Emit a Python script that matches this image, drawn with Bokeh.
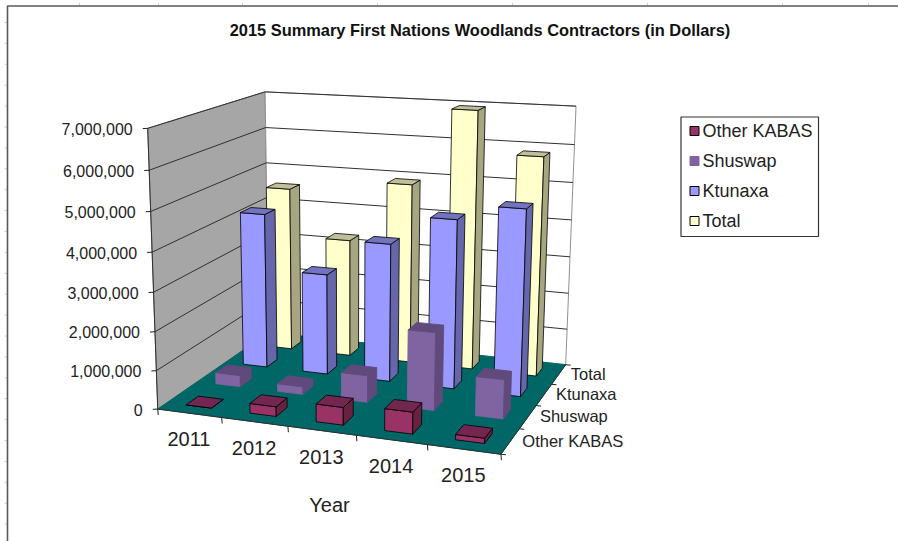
import numpy as np
from bokeh.plotting import figure
from bokeh.embed import file_html
from bokeh.resources import INLINE
from bokeh.core.properties import value

years = ["2011", "2012", "2013", "2014", "2015"]
series = ["Other KABAS", "Shuswap", "Ktunaxa", "Total"]
other_kabas = [0, 250000, 450000, 550000, 130000]
shuswap = [300000, 200000, 700000, 2000000, 1000000]
ktunaxa = [4200000, 2720000, 3680000, 4450000, 4850000]
total = [4550000, 3250000, 4900000, 6950000, 5850000]
y_ticks = [0, 1000000, 2000000, 3000000, 4000000, 5000000, 6000000, 7000000]
values = [other_kabas, shuswap, ktunaxa, total]
ymax = y_ticks[-1]

W, H = 898, 541
FONT = "Liberation Sans"

# colours: front, side, top, edge
colors = {
    "Other KABAS": ("#993366", "#66223f", "#732650", "#000000"),
    "Shuswap": ("#8064a2", "#604a7b", "#604a7b", None),
    "Ktunaxa": ("#9999ff", "#6666aa", "#7373bf", "#000000"),
    "Total": ("#ffffcc", "#a6a680", "#bfbf99", "#000000"),
}

# projective camera fitted to the plot box landmarks seen in the picture
calib = [
    ((0, 0, 0), (158, 408)), ((1, 0, 0), (222, 416.8)), ((2, 0, 0), (287, 425.7)),
    ((3, 0, 0), (356, 435)), ((4, 0, 0), (426, 444.7)), ((5, 0, 0), (500.5, 455)),
    ((5, 0, 4), (566, 362)), ((0, 0, 4), (266, 333)),
    ((0, 7, 0), (146, 128)), ((0, 6, 0), (148, 170)), ((0, 5, 0), (150, 211)),
    ((0, 4, 0), (151.5, 251)), ((0, 3, 0), (153, 291)), ((0, 2, 0), (155, 331)),
    ((0, 1, 0), (157, 370)),
    ((0, 7, 4), (266, 90.5)), ((0, 6, 4), (266, 126.7)), ((0, 5, 4), (266, 161.7)),
    ((0, 4, 4), (266, 198)), ((0, 3, 4), (266, 233)),
    ((5, 7, 4), (575, 106)), ((5, 6, 4), (573.7, 145)), ((5, 5, 4), (572.4, 182)),
    ((5, 4, 4), (571, 219)), ((5, 3, 4), (570, 256)),
]
A, b = [], []
for (X, Y, Z), (u, v) in calib:
    A.append([X, Y, Z, 1, 0, 0, 0, 0, -u * X, -u * Y, -u * Z])
    b.append(u)
    A.append([0, 0, 0, 0, X, Y, Z, 1, -v * X, -v * Y, -v * Z])
    b.append(v)
h = np.linalg.lstsq(np.array(A, float), np.array(b, float), rcond=None)[0]
P = np.append(h, 1).reshape(3, 4)


def proj(x, val, z):
    q = P @ np.array([x, val / 1e6, z, 1.0])
    return q[0] / q[2], q[1] / q[2]


def poly(pts):
    c = [proj(*p) for p in pts]
    return [a[0] for a in c], [a[1] for a in c]


p = figure(width=W, height=H, x_range=(0, W), y_range=(H, 0), output_backend="svg",
           toolbar_location=None, min_border=0, outline_line_color=None,
           background_fill_color="white", border_fill_color="white")
p.axis.visible = False
p.grid.visible = False

# faint ruler marks outside the chart frame, then the frame itself
for yy in np.arange(22, 541, 20.9):
    p.line([4, 7], [yy, yy], line_color="#d0d0d0", line_width=1)
for xx in [79, 158, 242, 377, 512, 647, 782, 868]:
    p.line([xx, xx], [2.5, 5], line_color="#d0d0d0", line_width=1)
p.line([7, 7, W], [H, 5.5, 5.5], line_color="#595959", line_width=1.6)

# walls and floor
xs, ys = poly([(0, 0, 0), (0, ymax, 0), (0, ymax, 4), (0, 0, 4)])
p.patch(xs, ys, fill_color="#a6a6a6", line_color="#808080", line_width=1)
xs, ys = poly([(0, 0, 4), (0, ymax, 4), (5, ymax, 4), (5, 0, 4)])
p.patch(xs, ys, fill_color="#ffffff", line_color="#909090", line_width=1)
xs, ys = poly([(0, 0, 0), (5, 0, 0), (5, 0, 4), (0, 0, 4)])
p.patch(xs, ys, fill_color="#006666", line_color="#006666", line_width=1)

# gridlines on the walls
for t in y_ticks[1:]:
    xs, ys = poly([(0, t, 0), (0, t, 4), (5, t, 4)])
    p.line(xs, ys, line_color="#303030", line_width=1)

# axis lines and ticks
xs, ys = poly([(0, ymax, 0), (0, 0, 0), (5, 0, 0), (5, 0, 4)])
p.line(xs, ys, line_color="#303030", line_width=1)
for t in y_ticks:
    u, v = proj(0, t, 0)
    p.line([u - 5, u], [v + 0.3, v], line_color="#202020", line_width=1)
for i in range(6):
    u, v = proj(i, 0, 0)
    p.line([u, u + 0.5], [v, v + 6], line_color="#202020", line_width=1)
for k in range(5):
    u, v = proj(5, 0, k)
    p.line([u, u + 5], [v, v + 0.5], line_color="#202020", line_width=1)

# bars, back row first, left to right
BW = 0.4
a0, a1 = 0.5 - BW / 2, 0.5 + BW / 2
fx, fy, fc, lc = [], [], [], []
for k in range(3, -1, -1):
    name = series[k]
    front, side, top, edge = colors[name]
    for i in range(5):
        val = values[k][i]
        x0, x1, z0, z1 = i + a0, i + a1, k + a0, k + a1
        faces = [
            ([(x0, 0, z0), (x1, 0, z0), (x1, val, z0), (x0, val, z0)], front),
            ([(x1, 0, z0), (x1, 0, z1), (x1, val, z1), (x1, val, z0)], side),
            ([(x0, val, z0), (x1, val, z0), (x1, val, z1), (x0, val, z1)], top),
        ]
        for pts, col in faces:
            a, b_ = poly(pts)
            fx.append(a)
            fy.append(b_)
            fc.append(col)
            lc.append(edge if edge else col)
p.patches(fx, fy, fill_color=fc, line_color=lc, line_width=0.8)

# value axis labels
lab_x, lab_y, lab_t = [], [], []
for t in y_ticks:
    u, v = proj(0, t, 0)
    lab_x.append(u - 15)
    lab_y.append(v + 0.5)
    lab_t.append(f"{t:,}")
p.text(lab_x, lab_y, text=lab_t, text_font=value(FONT), text_font_size="16px",
       text_align="right", text_baseline="middle", text_color="#222222")

# year labels
lab_x, lab_y = [], []
for i in range(5):
    u, v = proj(i + 0.5, 0, 0)
    lab_x.append(u - 0.5)
    lab_y.append(v + 26)
p.text(lab_x, lab_y, text=years, text_font=value(FONT), text_font_size="20px",
       text_align="center", text_baseline="middle", text_color="#222222")

# series labels on the depth axis
lab_x, lab_y = [], []
for k in range(4):
    u, v = proj(5, 0, k + 0.5)
    lab_x.append(u + 12)
    lab_y.append(v - 0.5)
p.text(lab_x, lab_y, text=series, text_font=value(FONT), text_font_size="16.5px",
       text_align="left", text_baseline="middle", text_color="#222222")

# titles
p.text([479.5], [29.5], text=["2015 Summary First Nations Woodlands Contractors (in Dollars)"],
       text_font=value(FONT), text_font_size="16.4px", text_font_style="bold",
       text_align="center", text_baseline="middle", text_color="#111111")
p.text([329], [504], text=["Year"], text_font=value(FONT), text_font_size="20px",
       text_align="center", text_baseline="middle", text_color="#222222")

# legend
p.quad(left=[680.5], right=[818], top=[116.5], bottom=[236], fill_color="white",
       line_color="#333333", line_width=1.2)
for k, name in enumerate(series):
    yc = 130.5 + 30 * k
    p.quad(left=[689.5], right=[698.5], top=[yc - 4.5], bottom=[yc + 4.5],
           fill_color=colors[name][0], line_color=colors[name][3] or colors[name][0], line_width=1)
    p.text([702], [yc], text=[name], text_font=value(FONT), text_font_size="18px",
           text_align="left", text_baseline="middle", text_color="#222222")

open("out.html", "w").write(file_html(p, INLINE))
